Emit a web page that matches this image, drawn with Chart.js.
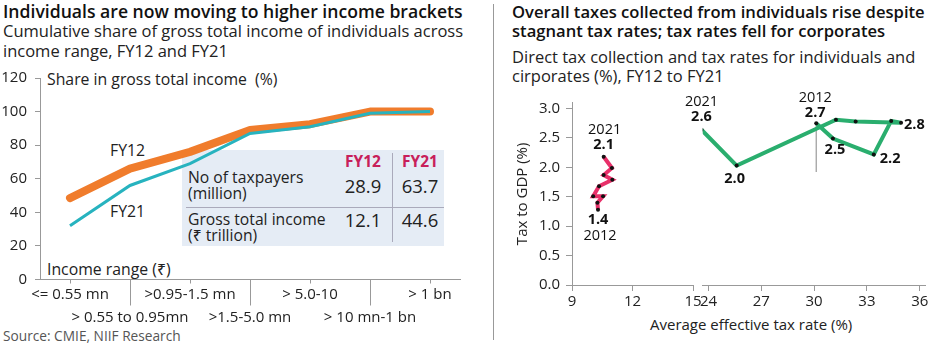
<!DOCTYPE html>
<html><head><meta charset="utf-8">
<script src="https://cdn.jsdelivr.net/npm/chart.js@4.4.0/dist/chart.umd.min.js"></script>
<style>
body{margin:0;width:930px;height:346px;position:relative;background:#fff;font-family:"Open Sans","Noto Sans",sans-serif;color:#222;overflow:hidden}
.t{position:absolute;white-space:nowrap;line-height:1}
.c{text-align:center}
canvas{position:absolute}
.title{font-size:16.6px;font-weight:600;color:#111}
.sub{font-size:16.5px;color:#222}
</style></head><body>

<div class="t title" style="left:3px;top:3px;font-size:17.6px">Individuals are now moving to higher income brackets</div>
<div class="t sub" style="left:3px;top:23px">Cumulative share of gross total income of individuals across</div>
<div class="t sub" style="left:3px;top:43px">income range, FY12 and FY21</div>

<div class="t title" style="left:512px;top:4px">Overall taxes collected from individuals rise despite</div>
<div class="t title" style="left:512px;top:23px">stagnant tax rates; tax rates fell for corporates</div>
<div class="t sub" style="left:512px;top:49px">Direct tax collection and tax rates for individuals and</div>
<div class="t sub" style="left:512px;top:68px">cirporates (%), FY12 to FY21</div>

<div style="position:absolute;left:493px;top:4px;width:1px;height:336px;background:#999"></div>

<!-- inset table -->
<div style="position:absolute;left:182px;top:150px;width:262px;height:96px;background:#e5ecf5"></div>
<div style="position:absolute;left:392px;top:153px;width:1px;height:89px;background:#aab"></div>
<div style="position:absolute;left:186px;top:207px;width:258px;height:1px;background:#aab"></div>
<div class="t c" style="left:333px;top:154px;width:60px;font-size:15.5px;font-weight:700;color:#c8205a">FY12</div>
<div class="t c" style="left:390px;top:154px;width:60px;font-size:15.5px;font-weight:700;color:#c8205a">FY21</div>
<div class="t" style="left:188px;top:170px;font-size:15.7px">No of taxpayers</div>
<div class="t" style="left:188px;top:186px;font-size:15.7px">(million)</div>
<div class="t c" style="left:333px;top:177px;width:60px;font-size:18.5px">28.9</div>
<div class="t c" style="left:390px;top:177px;width:60px;font-size:18.5px">63.7</div>
<div class="t" style="left:188px;top:212px;font-size:15.7px">Gross total income</div>
<div class="t" style="left:188px;top:228px;font-size:15.7px">(₹ trillion)</div>
<div class="t c" style="left:333px;top:211px;width:60px;font-size:18.5px">12.1</div>
<div class="t c" style="left:390px;top:211px;width:60px;font-size:18.5px">44.6</div>

<div class="t" style="left:47px;top:72px;font-size:15.8px">Share in gross total income&nbsp; (%)</div>
<div class="t" style="left:47px;top:262px;font-size:15.8px">Income range (₹)</div>
<div class="t" style="left:110px;top:143px;font-size:15.8px">FY12</div>
<div class="t" style="left:110px;top:204px;font-size:15.8px">FY21</div>
<div class="t" style="left:3px;top:329px;font-size:13.7px;color:#555">Source: CMIE, NIIF Research</div>

<div class="t c" style="left:650px;top:317px;width:200px;font-size:15px">Average effective tax rate (%)</div>

<canvas id="left" width="470" height="275" style="left:0;top:60px;width:470px;height:275px"></canvas>
<canvas id="rA" width="230" height="255" style="left:480px;top:85px;width:230px;height:255px"></canvas>
<canvas id="rB" width="250" height="255" style="left:680px;top:85px;width:250px;height:255px"></canvas>

<script>
// ---------- data ----------
const incomeRanges = ['<= 0.55 mn', '> 0.55 to 0.95mn', '>0.95-1.5 mn', '>1.5-5.0 mn', '> 5.0-10', '> 10 mn-1 bn', '> 1 bn'];
const shareFY12 = [48.5, 66, 76, 89, 92.5, 100, 100];
const shareFY21 = [32, 56, 69, 87, 91, 99, 100];
const shareTicks = [0, 20, 40, 60, 80, 100, 120];

// individuals, FY12 -> FY21
const indivRate   = [10.29, 10.26, 10.54, 10.05, 10.34, 11.0, 10.57, 10.98, 10.57];
const indivTaxGDP = [1.28, 1.40, 1.51, 1.51, 1.68, 1.79, 1.87, 1.99, 2.18];
// corporates, FY12 -> FY21
const corpRate    = [30.12, 31.07, 33.39, 34.38, 34.94, 32.36, 31.24, 25.6, 23.6];
const corpTaxGDP  = [2.75, 2.49, 2.22, 2.79, 2.76, 2.78, 2.81, 2.03, 2.64];
const corpMarkerX = [30.12, 30.12];
const corpMarkerY = [2.75, 1.92];

const taxTicks = [0, 0.5, 1.0, 1.5, 2.0, 2.5, 3.0];
const indivXTicks = [9, 12, 15];
const corpXTicks = [24, 27, 30, 33, 36];

const FONT = '"Open Sans", "Noto Sans", sans-serif';
Chart.defaults.font.family = FONT;
Chart.defaults.color = '#222';
Chart.defaults.animation = false;
Chart.defaults.plugins.legend.display = false;
Chart.defaults.plugins.tooltip.enabled = false;

// ---------- left chart ----------
const longTicks = {
  id: 'longTicks',
  afterDraw(chart) {
    const xs = chart.scales.x, ctx = chart.ctx, b = chart.chartArea.bottom;
    ctx.save(); ctx.strokeStyle = '#999'; ctx.lineWidth = 1;
    incomeRanges.forEach((_, i) => {
      const x = Math.round(xs.getPixelForValue(i)) + 0.5;
      ctx.beginPath(); ctx.moveTo(x, b); ctx.lineTo(x, b + (i % 2 ? 26 : 4)); ctx.stroke();
    });
    ctx.restore();
  }
};

new Chart(document.getElementById('left'), {
  type: 'line',
  data: {
    labels: incomeRanges.map((l, i) => i % 2 ? ['', l] : l),
    datasets: [
      { label: 'FY21', data: shareFY21, borderColor: '#27b3bf', borderWidth: 3, pointRadius: 0, order: 0, tension: 0 },
      { label: 'FY12', data: shareFY12, borderColor: '#f07c2c', borderWidth: 8, pointRadius: 0, order: 1, tension: 0,
        borderCapStyle: 'round', borderJoinStyle: 'round' }
    ]
  },
  options: {
    responsive: false,
    layout: { padding: { top: 18, right: 10, left: 0, bottom: 0 } },
    scales: {
      x: {
        offset: true,
        grid: { display: false, drawTicks: false },
        border: { display: true, color: '#999' },
        ticks: { autoSkip: false, maxRotation: 0, minRotation: 0, font: { size: 15, lineHeight: 1.5 }, color: '#222', padding: 4 },
        afterFit(s) { s.height = 55.5; }
      },
      y: {
        min: 0, max: 120,
        afterBuildTicks(s) { s.ticks = shareTicks.map(v => ({ value: v })); },
        grid: { drawOnChartArea: false, drawTicks: true, tickLength: 5, color: '#999' },
        border: { display: true, color: '#999' },
        ticks: { font: { size: 15 }, color: '#222', padding: 8 },
        afterFit(s) { s.width = 40; s.paddingTop = 0; s.paddingBottom = 0; }
      }
    }
  },
  plugins: [longTicks]
});

// ---------- right charts ----------
function labelPlugin(items) {
  return {
    id: 'ptLabels',
    afterDatasetsDraw(chart) {
      const ctx = chart.ctx;
      items.forEach(it => {
        const el = chart.getDatasetMeta(0).data[it.i];
        ctx.save();
        ctx.font = (it.bold ? 'bold ' : '') + '14.5px ' + FONT;
        ctx.fillStyle = '#111';
        ctx.textAlign = it.align || 'center';
        ctx.textBaseline = 'middle';
        ctx.fillText(it.text, el.x + it.dx, el.y + it.dy);
        ctx.restore();
      });
    }
  };
}

const yScale = (show) => ({
  min: 0, max: 3.1,
  display: show,
  afterBuildTicks(s) { s.ticks = taxTicks.map(v => ({ value: v })); },
  grid: { drawOnChartArea: false, drawTicks: true, tickLength: 6, color: '#999' },
  border: { display: true, color: '#999' },
  ticks: { font: { size: 15 }, color: '#222', padding: 6, callback: v => Number(v).toFixed(1) },
  title: { display: show, text: 'Tax to GDP (%)', font: { size: 15 }, color: '#222' },
  afterFit(s) { if (show) s.width = 62; s.paddingTop = 0; s.paddingBottom = 0; }
});
const xScale = (min, max, ticks) => ({
  type: 'linear', min, max,
  afterBuildTicks(s) { s.ticks = ticks.map(v => ({ value: v })); },
  grid: { drawOnChartArea: false, drawTicks: true, tickLength: 6, color: '#999' },
  border: { display: true, color: '#999' },
  ticks: { font: { size: 15 }, color: '#222', padding: 2 },
  afterFit(s) { s.height = 55; s.paddingLeft = 0; s.paddingRight = 0; }
});

new Chart(document.getElementById('rA'), {
  type: 'scatter',
  data: {
    datasets: [{
      data: indivRate.map((x, i) => ({ x, y: indivTaxGDP[i] })),
      showLine: true, borderColor: '#e8306a', borderWidth: 4, tension: 0,
      pointRadius: 2, pointBackgroundColor: '#111', pointBorderWidth: 0
    }]
  },
  options: {
    responsive: false,
    layout: { padding: { top: 17.7, right: 17, left: 30, bottom: 0 } },
    scales: { x: xScale(9, 15, indivXTicks), y: yScale(true) }
  },
  plugins: [labelPlugin([
    { i: 8, text: '2.1', bold: true, dx: 0, dy: -12 },
    { i: 8, text: '2021', dx: 1, dy: -27 },
    { i: 0, text: '1.4', bold: true, dx: 0, dy: 10 },
    { i: 0, text: '2012', dx: 2, dy: 26 }
  ])]
});

new Chart(document.getElementById('rB'), {
  type: 'scatter',
  data: {
    datasets: [
      {
        data: corpRate.map((x, i) => ({ x, y: corpTaxGDP[i] })),
        showLine: true, borderColor: '#2aae6e', borderWidth: 4, tension: 0,
        pointRadius: 2, pointBackgroundColor: '#111', pointBorderWidth: 0, order: 0
      },
      {
        data: corpMarkerX.map((x, i) => ({ x, y: corpMarkerY[i] })),
        showLine: true, borderColor: '#999', borderWidth: 1.2, pointRadius: 0, order: 1
      }
    ]
  },
  options: {
    responsive: false,
    layout: { padding: { top: 17.7, right: 5, left: 22.7, bottom: 0 } },
    scales: { x: xScale(23.67, 36.3, corpXTicks), y: yScale(false) }
  },
  plugins: [labelPlugin([
    { i: 8, text: '2.6', bold: true, dx: 0, dy: -13 },
    { i: 8, text: '2021', dx: 0, dy: -28 },
    { i: 0, text: '2.7', bold: true, dx: -1, dy: -10 },
    { i: 0, text: '2012', dx: -1, dy: -25 },
    { i: 7, text: '2.0', bold: true, dx: -2, dy: 13 },
    { i: 1, text: '2.5', bold: true, dx: 2, dy: 11 },
    { i: 2, text: '2.2', bold: true, dx: 6, dy: 4, align: 'left' },
    { i: 4, text: '2.8', bold: true, dx: 3, dy: 2, align: 'left' }
  ])]
});
</script>
</body></html>
